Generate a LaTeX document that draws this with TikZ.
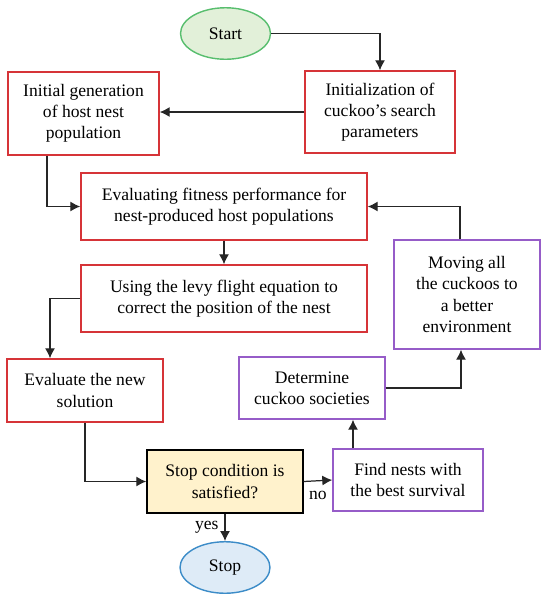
\documentclass[tikz,border=0pt]{standalone}
\usepackage{fontspec}
\setmainfont{Liberation Serif}
\usepackage{xcolor}
\usepackage{tikz}
\usetikzlibrary{shapes,arrows,arrows.meta,positioning}
\definecolor{boxred}{RGB}{214,52,56}
\definecolor{boxpurple}{RGB}{150,92,200}
\definecolor{startline}{RGB}{88,190,110}
\definecolor{startfill}{RGB}{226,240,217}
\definecolor{stopline}{RGB}{60,140,200}
\definecolor{stopfill}{RGB}{222,235,247}
\definecolor{condfill}{RGB}{255,242,204}
\tikzset{
    every node/.style={font=\fontsize{10}{12}\selectfont}
}

\begin{document}
\begin{tikzpicture}[>={Latex[length=2mm,width=2mm]}]
            % Define block styles
            \tikzstyle{block} = [rectangle, draw=boxred, line width=0.8pt, align=center]
            \tikzstyle{move} = [rectangle, draw=boxpurple, line width=0.8pt, align=center]
            \tikzstyle{decision} = [rectangle, draw=black, fill=condfill, line width=0.8pt, align=center]
            \tikzstyle{terminal} = [ellipse, line width=0.8pt, minimum width=1.8cm, minimum height=1.03cm]
            \tikzstyle{line} = [draw=black!85, line width=0.7pt]

            \useasboundingbox (0,0) rectangle (10.82,-11.88);

            % Place nodes
            \node [terminal, draw=startline, fill=startfill] (start) at (4.51,-0.67) {Start};
            \node [block, minimum width=3.0cm, minimum height=1.64cm] (init) at (7.60,-2.24) {Initialization of\\cuckoo's search\\parameters};
            \node [block, minimum width=3.02cm, minimum height=1.66cm] (gen) at (1.67,-2.27) {Initial generation\\of host nest\\population};
            \node [block, minimum width=5.72cm, minimum height=1.34cm] (fit) at (4.48,-4.13) {Evaluating fitness performance for\\nest-produced host populations};
            \node [block, minimum width=5.72cm, minimum height=1.34cm, below of=fit, node distance=1.84cm] (levy) {Using the levy flight equation to\\correct the position of the nest};
            \node [block, minimum width=3.12cm, minimum height=1.26cm] (evalnew) at (1.70,-7.81) {Evaluate the new\\solution};
            \node [decision, minimum width=3.12cm, minimum height=1.26cm] (cond) at (4.50,-9.63) {Stop condition is\\satisfied?};
            \node [move, minimum width=3.0cm, minimum height=1.24cm] (find) at (8.16,-9.60) {Find nests with\\the best survival};
            \node [move, minimum width=2.92cm, minimum height=1.24cm] (det) at (6.24,-7.76) {Determine\\cuckoo societies};
            \node [move, minimum width=2.92cm, minimum height=2.18cm] (moving) at (9.34,-5.89) {Moving all\\the cuckoos to\\a better\\environment};
            \node [terminal, draw=stopline, fill=stopfill, below of=cond, node distance=1.72cm] (stop) {Stop};

            % Connect nodes
            \draw [->, line] (start.east) -| (init.north);
            \draw [->, line] (init.west) -- (init.west -| gen.east);
            \draw [->, line] ([xshift=-0.73cm]gen.south) |- (fit.west);
            \draw [->, line] (fit) -- (levy);
            \draw [->, line] (levy.west) -| ([xshift=-0.70cm]evalnew.north);
            \draw [->, line] (evalnew.south) |- (cond.west);
            \draw [->, line] (cond.east) -- node [below=2pt] {no} (find.west);
            \draw [->, line] ([xshift=-1.1cm]find.north) -- ([xshift=-1.1cm]find.north |- det.south);
            \draw [->, line] (det.east) -| ([xshift=-0.12cm]moving.south);
            \draw [->, line] ([xshift=-0.14cm]moving.north) |- (fit.east);
            \draw [->, line] (cond) -- node [left] {yes} (stop);
        \end{tikzpicture}
\end{document}
